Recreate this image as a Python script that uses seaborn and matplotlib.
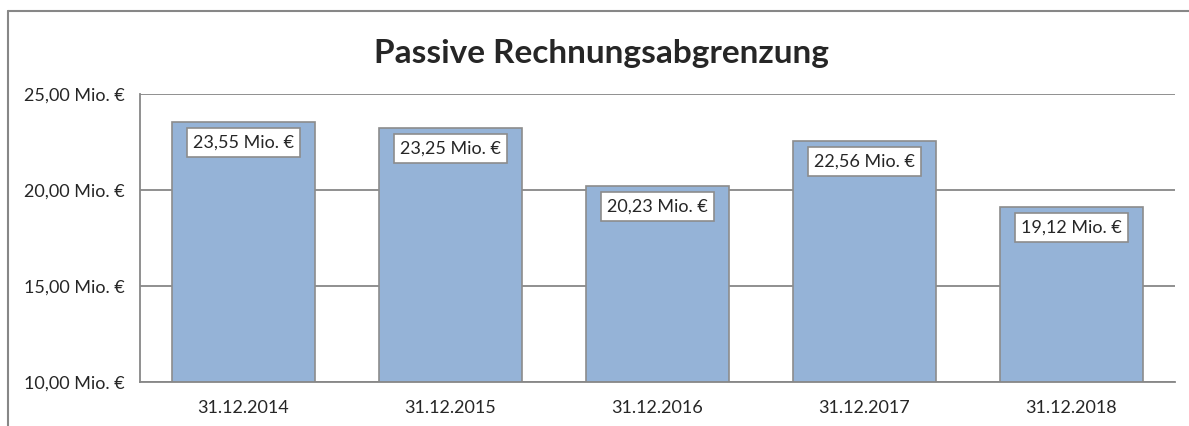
import numpy as np
import pandas as pd
import matplotlib
matplotlib.use("Agg")
import matplotlib.pyplot as plt
from matplotlib.lines import Line2D
from matplotlib.ticker import FuncFormatter, FixedLocator
import seaborn as sns

# --- Data ---
dates = ["31.12.2014", "31.12.2015", "31.12.2016", "31.12.2017", "31.12.2018"]
values = [23.55, 23.25, 20.23, 22.56, 19.12]  # Mio. €

df = pd.DataFrame({"date": dates, "value": values})


def de_fmt(v):
    return f"{v:,.2f}".replace(",", "X").replace(".", ",").replace("X", ".") + " Mio. €"


sns.set_style("white")
plt.rcParams["font.family"] = ["Lato", "DejaVu Sans"]

grey = "#878787"
bar_color = "#95B3D7"

fig = plt.figure(figsize=(11.89, 4.26), dpi=100)
ax = fig.add_axes([140 / 1189, 1 - 382 / 426, (1175 - 140) / 1189, (382 - 94) / 426])

sns.barplot(data=df, x="date", y="value", color=bar_color, width=0.69,
            edgecolor="#8c8c8c", linewidth=1.2, saturation=1, ax=ax, zorder=3)

ax.set_ylim(10, 25)
ax.set_xlim(-0.5, len(dates) - 0.5)
ax.set_yticks([10, 15, 20, 25])
ax.yaxis.set_major_formatter(FuncFormatter(lambda v, p: de_fmt(v)))
ax.grid(axis="y", color=grey, linewidth=1.3, zorder=0)
ax.set_axisbelow(True)

# category ticks between bars, labels centered
ax.xaxis.set_major_locator(FixedLocator(np.arange(len(dates) + 1) - 0.5))
ax.xaxis.set_minor_locator(FixedLocator(np.arange(len(dates))))
ax.set_xticklabels([], minor=False)
ax.set_xticklabels(dates, minor=True)
ax.tick_params(axis="x", which="major", length=6, width=1.2, color=grey, direction="out")
ax.tick_params(axis="x", which="minor", length=0, labelsize=13, pad=13)
ax.tick_params(axis="y", length=7, width=1.2, color=grey, direction="out", labelsize=13, pad=4)
ax.set_xlabel("")
ax.set_ylabel("")

for side in ["top", "right"]:
    ax.spines[side].set_visible(False)
for side in ["left", "bottom"]:
    ax.spines[side].set_color(grey)
    ax.spines[side].set_linewidth(1.3)
    ax.spines[side].set_zorder(4)

# value labels inside the bars
for i, v in enumerate(values):
    ax.annotate(de_fmt(v), xy=(i, v), xytext=(0, -15), textcoords="offset points",
                ha="center", va="center", fontsize=13, zorder=5,
                bbox=dict(boxstyle="square,pad=0.35", fc="white", ec="#8c8c8c", lw=1.2))

fig.text(601 / 1189, 1 - 53 / 426, "Passive Rechnungsabgrenzung", ha="center", va="center",
         fontsize=24, fontweight="bold")

# outer chart frame: only top and left edges are visible
top_y = 1 - 11 / 426
left_x = 8 / 1189
fig.add_artist(Line2D([left_x, 1.0], [top_y, top_y], transform=fig.transFigure, color=grey, lw=1.5))
fig.add_artist(Line2D([left_x, left_x], [0.0, top_y], transform=fig.transFigure, color=grey, lw=1.5))

fig.savefig("out.png", dpi=100)
